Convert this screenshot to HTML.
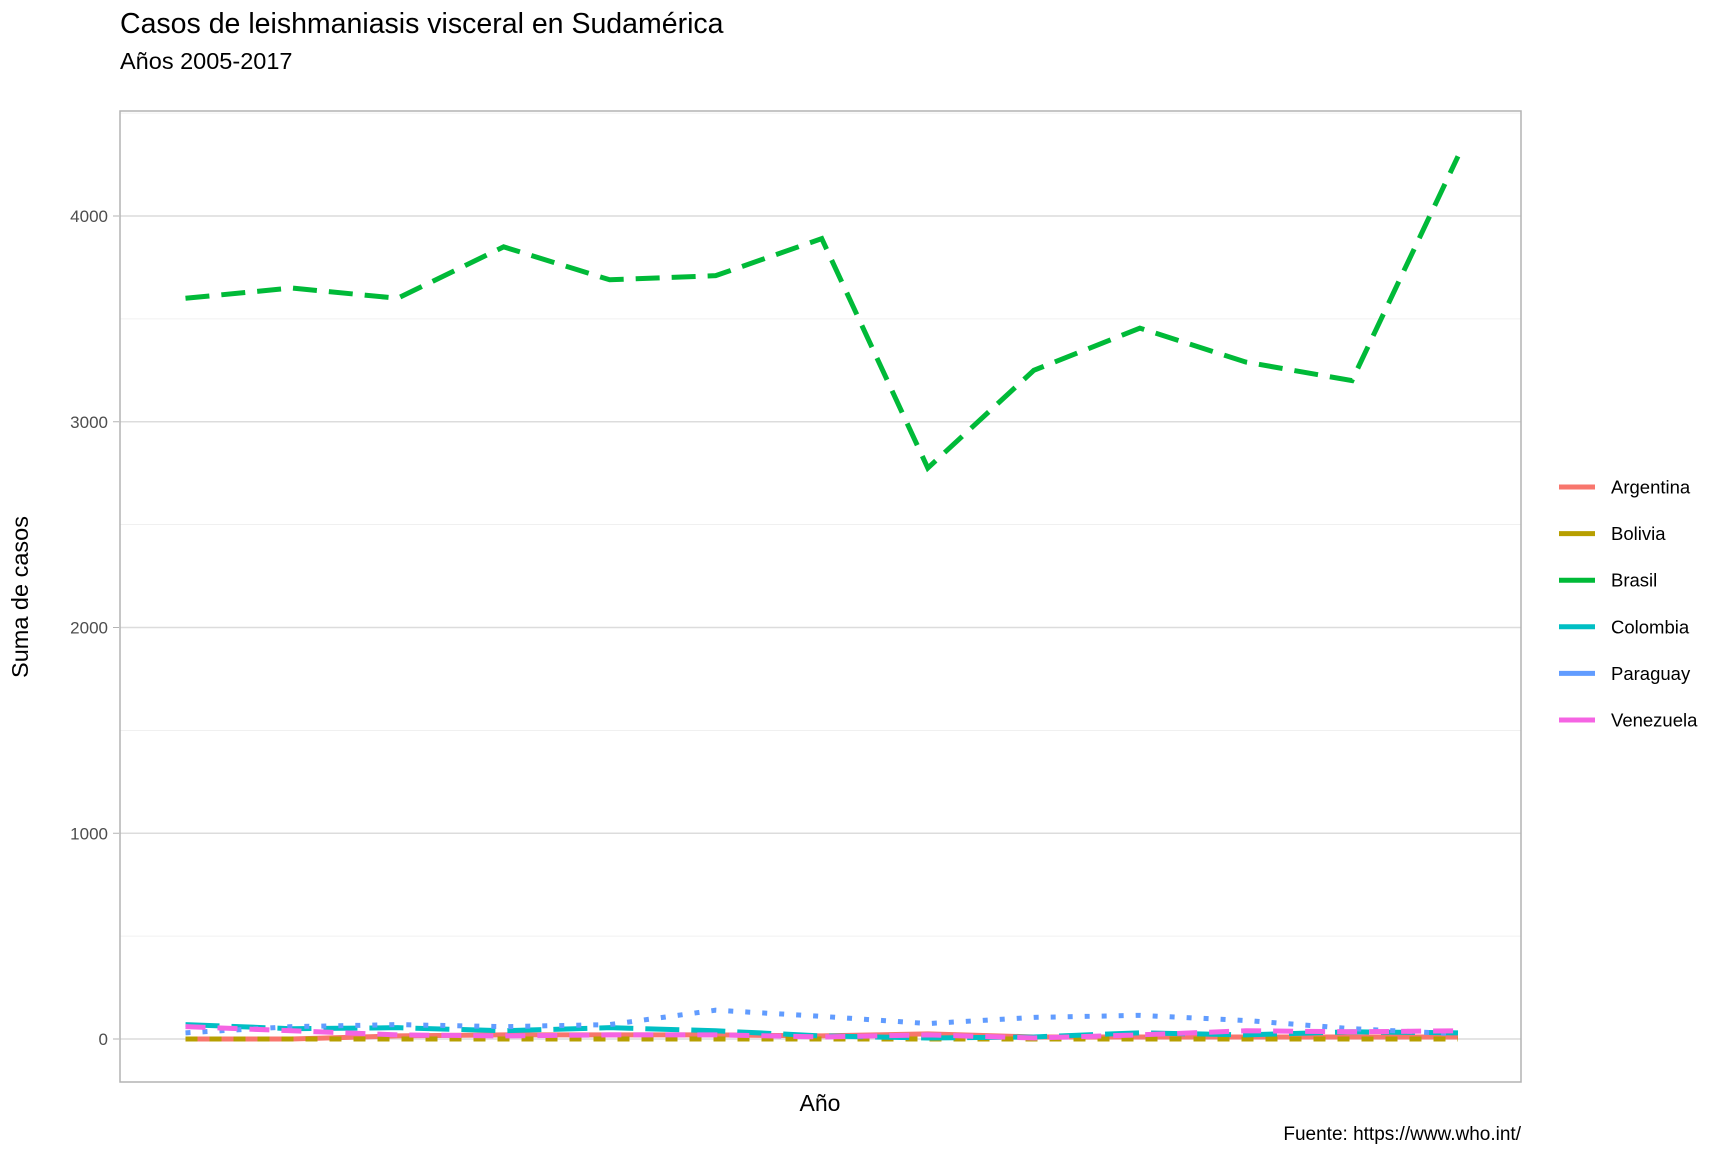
<!DOCTYPE html>
<html><head><meta charset="utf-8"><style>
body{margin:0;background:#fff}
svg text{font-family:"Liberation Sans",sans-serif}
</style></head><body>
<svg id="chart" width="1728" height="1152" xmlns="http://www.w3.org/2000/svg">
<rect width="1728" height="1152" fill="#fff"/>
<text x="120" y="33" font-size="28.5" fill="#000">Casos de leishmaniasis visceral en Sudamérica</text>
<text x="120" y="69" font-size="23.5" fill="#000">Años 2005-2017</text>
<g id="grid"></g>
<g id="series"></g>
<rect x="120" y="111" width="1401" height="971" fill="none" stroke="#b3b3b3" stroke-width="1.5"/>
<g id="yticks"></g>
<text x="28" y="597" font-size="23.5" fill="#000" text-anchor="middle" transform="rotate(-90 28 597)">Suma de casos</text>
<text x="820" y="1111" font-size="23" fill="#000" text-anchor="middle">Año</text>
<text x="1521" y="1140" font-size="19" fill="#000" text-anchor="end">Fuente: https://www.who.int/</text>
<g id="legend"></g>
</svg>
<script>
const years=[2005,2006,2007,2008,2009,2010,2011,2012,2013,2014,2015,2016,2017];
const countries=["Argentina","Bolivia","Brasil","Colombia","Paraguay","Venezuela"];
const argentina=[0,0,15,20,20,20,15,25,10,10,10,10,10];
const bolivia=[0,0,0,0,0,0,0,0,0,0,0,0,0];
const brasil=[3600,3650,3600,3850,3690,3710,3890,2775,3250,3455,3290,3200,4290];
const colombia=[70,50,55,40,55,40,15,5,10,30,20,35,30];
const paraguay=[30,60,70,60,70,140,110,75,105,115,90,50,25];
const venezuela=[60,40,20,15,20,20,10,20,5,20,40,35,40];
const yTicks=[0,1000,2000,3000,4000];
const colors=["#F8766D","#B79F00","#00BA38","#00BFC4","#619CFF","#F564E3"];
const dashes=["none","12 12","24 12","34 12","5 12","20 12"];
const seriesData=[argentina,bolivia,brasil,colombia,paraguay,venezuela];
const NS="http://www.w3.org/2000/svg";
const x=i=>185.5+i*(1458-185.5)/(years.length-1);
const y=v=>1039-v*(1039-216)/4000;
const grid=document.getElementById('grid');
for(let v=-500;v<=4500;v+=500){const yy=y(v);if(yy<111||yy>1082)continue;
 const l=document.createElementNS(NS,'line');
 
 
 l.setAttribute('x1',120);l.setAttribute('x2',1521);l.setAttribute('y1',yy);l.setAttribute('y2',yy);
 l.setAttribute('stroke',v%1000===0?'#dcdcdc':'#ececec');l.setAttribute('stroke-width',v%1000===0?1.4:0.8);grid.appendChild(l);}
const yt=document.getElementById('yticks');
yTicks.forEach(v=>{const t=document.createElementNS(NS,'text');
 
 
 t.setAttribute('x',108);t.setAttribute('y',y(v)+6);t.setAttribute('text-anchor','end');t.setAttribute('font-size','17');t.setAttribute('fill','#4d4d4d');t.textContent=v;yt.appendChild(t);
 const m=document.createElementNS(NS,'line');
 
 
 m.setAttribute('x1',113);m.setAttribute('x2',119);m.setAttribute('y1',y(v));m.setAttribute('y2',y(v));m.setAttribute('stroke','#b3b3b3');yt.appendChild(m);});
const sg=document.getElementById('series');
seriesData.forEach((d,k)=>{const p=document.createElementNS(NS,'polyline');
 
 
 p.setAttribute('points',d.map((v,i)=>x(i)+','+y(v)).join(' '));
 p.setAttribute('fill','none');p.setAttribute('stroke',colors[k]);p.setAttribute('stroke-width','5');
 if(dashes[k]!=='none')p.setAttribute('stroke-dasharray',dashes[k]);sg.appendChild(p);});
const lg=document.getElementById('legend');
countries.forEach((c,k)=>{const yy=487+k*46.6;
 const l=document.createElementNS(NS,'line');
 
 
 l.setAttribute('x1',1559);l.setAttribute('x2',1595);l.setAttribute('y1',yy);l.setAttribute('y2',yy);l.setAttribute('stroke',colors[k]);l.setAttribute('stroke-width','5');lg.appendChild(l);
 const t=document.createElementNS(NS,'text');
 
 
 t.setAttribute('x',1611);t.setAttribute('y',yy+6.5);t.setAttribute('font-size','18.5');t.setAttribute('fill','#000');t.textContent=c;lg.appendChild(t);});
</script>
</body></html>
